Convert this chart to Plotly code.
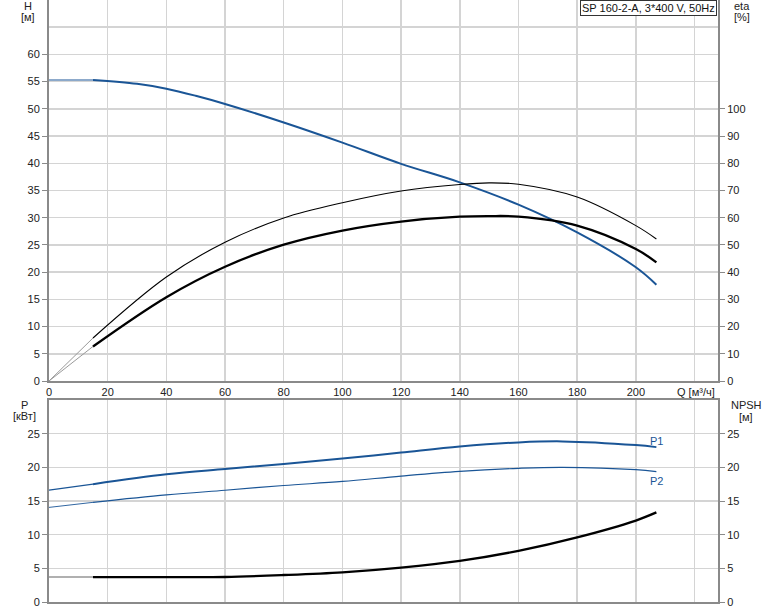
import plotly.graph_objects as go

# ---------------- data ----------------
q_ext = [0, 15]
h_ext = [55.3, 55.3]
eta1_ext = [0, 15.8]
eta2_ext = [0, 12.7]
p1_ext = [16.6, 17.5]
p2_ext = [14.05, 14.8]
npsh_ext = [3.7, 3.7]

q_h = [15, 30, 40, 50, 60, 80, 100, 120, 140, 160, 180, 200, 207]
h_vals = [55.3, 54.6, 53.7, 52.4, 50.9, 47.5, 43.8, 39.9, 36.5, 32.4, 27.3, 20.9, 17.7]

q_eta = [15, 40, 60, 80, 100, 120, 140, 150, 160, 180, 200, 207]
eta1_vals = [15.8, 38.2, 51.0, 59.9, 65.5, 69.8, 72.2, 72.8, 72.3, 67.6, 57.1, 52.2]
eta2_vals = [12.7, 30.8, 42.0, 50.1, 55.3, 58.6, 60.4, 60.6, 60.4, 57.1, 48.5, 43.6]

q_p1 = [15, 40, 60, 80, 100, 120, 140, 160, 175, 200, 207]
p1_vals = [17.5, 18.96, 19.75, 20.5, 21.3, 22.2, 23.1, 23.7, 23.85, 23.3, 23.0]
q_p2 = [15, 40, 60, 80, 100, 120, 140, 160, 175, 200, 207]
p2_vals = [14.8, 15.9, 16.6, 17.3, 17.9, 18.7, 19.4, 19.85, 20.0, 19.65, 19.35]

q_npsh = [15, 40, 60, 80, 100, 120, 140, 160, 180, 200, 207]
npsh_vals = [3.7, 3.7, 3.72, 4.0, 4.4, 5.1, 6.1, 7.6, 9.6, 12.1, 13.3]

x_ticks = [0, 20, 40, 60, 80, 100, 120, 140, 160, 180, 200]
h_ticks = [0, 5, 10, 15, 20, 25, 30, 35, 40, 45, 50, 55, 60]
eta_ticks = [0, 10, 20, 30, 40, 50, 60, 70, 80, 90, 100]
p_ticks = [0, 5, 10, 15, 20, 25]

title_text = "SP 160-2-A, 3*400 V, 50Hz"

# ---------------- figure ----------------
BLUE = "#1a5596"
GRID = "#d4d4d4"
AX = "#8a8a8a"
FONT = "Liberation Sans, Arial, sans-serif"

fig = go.Figure()

def line(x, y, color, width, xa, ya, shape="spline"):
    fig.add_trace(go.Scatter(x=x, y=y, mode="lines", xaxis=xa, yaxis=ya,
                             line=dict(color=color, width=width, shape=shape, smoothing=1.0),
                             hoverinfo="skip", showlegend=False))

# top chart: eta curves on y2, H on y
line(q_ext, eta1_ext, "#9a9a9a", 1, "x", "y2", "linear")
line(q_ext, eta2_ext, "#9a9a9a", 1, "x", "y2", "linear")
line(q_eta, eta1_vals, "black", 1.1, "x", "y2")
line(q_eta, eta2_vals, "black", 2.3, "x", "y2")
line(q_ext, h_ext, BLUE, 1, "x", "y", "linear")
line(q_h, h_vals, BLUE, 2, "x", "y")

# bottom chart
line(q_ext, p1_ext, BLUE, 1.2, "x3", "y3", "linear")
line(q_ext, p2_ext, BLUE, 0.9, "x3", "y3", "linear")
line(q_p1, p1_vals, BLUE, 2, "x3", "y3")
line(q_p2, p2_vals, BLUE, 1.2, "x3", "y3")
line(q_ext, npsh_ext, "#b0b0b0", 2, "x3", "y4", "linear")
line(q_npsh, npsh_vals, "black", 2.4, "x3", "y4")

tickfont = dict(family=FONT, size=11, color="#222")

common_x = dict(range=[0, 228], showgrid=True, gridcolor=GRID, gridwidth=1.5,
                zeroline=False, showline=True, linecolor=AX, linewidth=2,
                tickvals=x_ticks, tickfont=tickfont, ticks="",
                minor=dict(tickvals=[220], showgrid=True, gridcolor=GRID, gridwidth=1.5, ticks=""))

TOP_DOM = [(602 - 381) / 602, 1.0]
BOT_DOM = [0.0, (602 - 400) / 602]

fig.update_layout(
    width=774, height=611,
    margin=dict(l=49, r=56, t=0, b=9),
    paper_bgcolor="white", plot_bgcolor="white",
    font=dict(family=FONT, size=11, color="#222"),
    xaxis=dict(domain=[0, 1], anchor="y", **common_x),
    yaxis=dict(domain=TOP_DOM, range=[0, 70], tickvals=h_ticks, ticks="outside", ticklen=5,
               tickcolor=AX, tickwidth=1, showgrid=True, gridcolor=GRID, gridwidth=1.5,
               zeroline=False, showline=True, linecolor=AX, linewidth=2, tickfont=tickfont,
               minor=dict(tickvals=[65, 70], showgrid=True, gridcolor=GRID, gridwidth=1.5, ticks="")),
    yaxis2=dict(overlaying="y", side="right", anchor="x", range=[0, 140], tickvals=eta_ticks,
                ticks="outside", ticklen=5, tickcolor=AX, showgrid=False, zeroline=False,
                showline=True, linecolor=AX, linewidth=2, tickfont=tickfont),
    xaxis3=dict(domain=[0, 1], anchor="y3", showticklabels=False, mirror=True, **common_x),
    yaxis3=dict(domain=BOT_DOM, range=[0, 30], tickvals=p_ticks, ticks="outside", ticklen=5,
                tickcolor=AX, showgrid=True, gridcolor=GRID, gridwidth=1.5, zeroline=False,
                showline=True, linecolor=AX, linewidth=2, tickfont=tickfont,
                minor=dict(tickvals=[30], showgrid=True, gridcolor=GRID, gridwidth=1.5, ticks="")),
    yaxis4=dict(overlaying="y3", side="right", anchor="x3", range=[0, 30], tickvals=p_ticks,
                ticks="outside", ticklen=5, tickcolor=AX, showgrid=False, zeroline=False,
                showline=True, linecolor=AX, linewidth=2, tickfont=tickfont),
)

def px(xp):
    return (xp - 49) / 669

def py(yp):
    return (602 - yp) / 602

def note(text, xp, yp, color="#222", xanchor="center", **kw):
    fig.add_annotation(text=text, x=px(xp), y=py(yp), xref="paper", yref="paper",
                       showarrow=False, xanchor=xanchor, yanchor="middle",
                       font=dict(family=FONT, size=11, color=color), **kw)

note("H", 28, 6)
note("[м]", 28, 17)
note("eta", 742, 6)
note("[%]", 742, 17)
note("P", 24, 405)
note("[кВт]", 24, 416)
note("NPSH", 746, 405)
note("[м]", 746, 417)
note("Q [м³/ч]", 696, 392)
note("P1", 656, 441, color=BLUE)
note("P2", 656, 481, color=BLUE)

fig.add_annotation(text=title_text, x=px(717), y=py(0), xref="paper", yref="paper",
                   showarrow=False, xanchor="right", yanchor="top",
                   font=dict(family=FONT, size=11, color="#111"),
                   bordercolor="#333", borderwidth=1, borderpad=1, bgcolor="white")

fig.write_html("out.html", config={"displayModeBar": False, "staticPlot": True},
               post_script="document.body.style.margin='0';document.body.style.overflow='hidden';")
